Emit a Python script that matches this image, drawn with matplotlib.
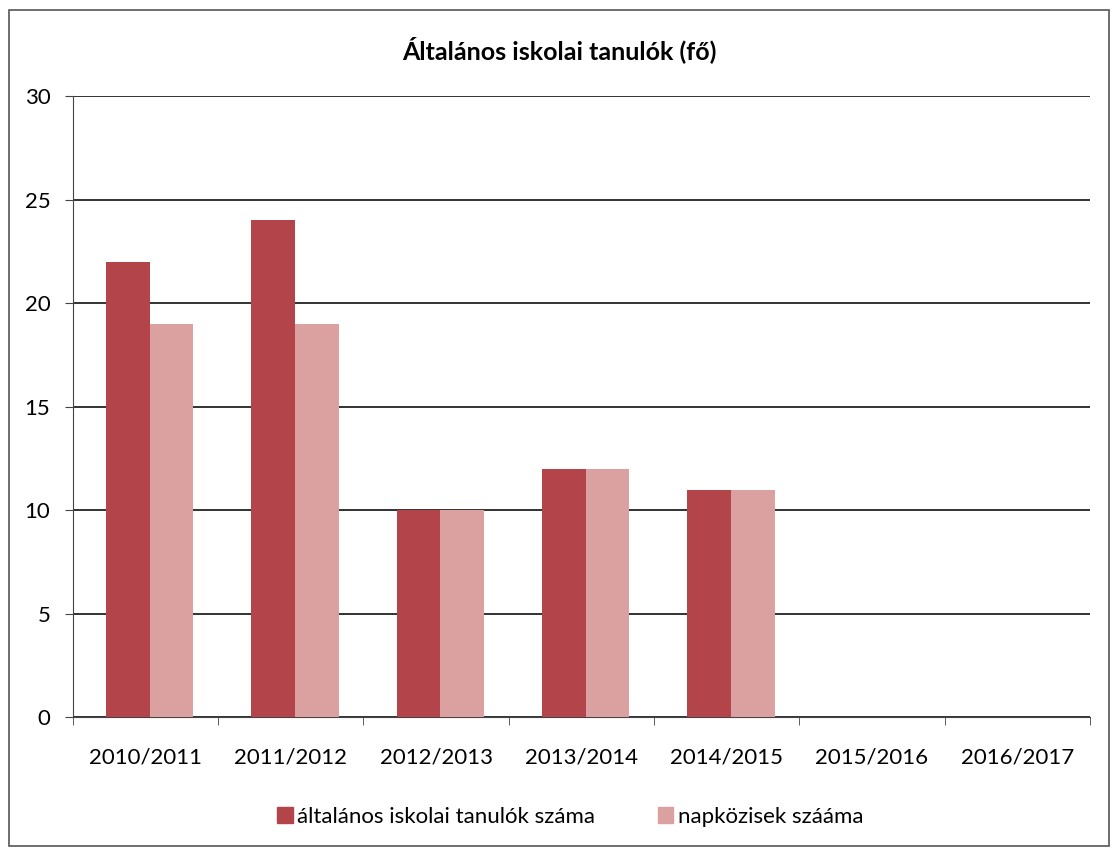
import numpy as np
import matplotlib.pyplot as plt
from matplotlib.patches import Rectangle

# data
years = ["2010/2011", "2011/2012", "2012/2013", "2013/2014",
         "2014/2015", "2015/2016", "2016/2017"]
tanulok = [22, 24, 10, 12, 11, 0, 0]
napkozis = [19, 19, 10, 12, 11, 0, 0]

plt.rcParams['font.family'] = ['Lato', 'DejaVu Sans']

fig = plt.figure(figsize=(11.18, 8.49), dpi=100)
ax = fig.add_axes([0.065, 0.155, 0.91, 0.732])

x = np.arange(len(years))
w = 0.3
ax.bar(x - w / 2 + 0.03, tanulok, w, color="#b3454a", label="általános iskolai tanulók száma", zorder=3)
ax.bar(x + w / 2 + 0.03, napkozis, w, color="#dba1a0", label="napközisek szááma", zorder=3)

ax.set_xlim(-0.5, len(years) - 0.5)
ax.set_ylim(0, 30)
ax.set_yticks(range(0, 31, 5))
ax.yaxis.grid(True, color="#222222", linewidth=1.3, zorder=0)

ax.set_xticks(x)
ax.set_xticklabels(years, fontsize=16)
ax.set_xticks(np.arange(-0.5, len(years), 1), minor=True)
ax.tick_params(axis="x", which="major", length=0, pad=22)
ax.tick_params(axis="x", which="minor", length=6, color="#444444")
ax.tick_params(axis="y", labelsize=16, length=6, color="#444444", pad=10)

for s in ["top", "right"]:
    ax.spines[s].set_visible(False)
ax.spines["left"].set_color("#444444")
ax.spines["bottom"].set_color("#444444")

fig.text(0.5, 0.93, "Általános iskolai tanulók (fő)", ha="center",
         fontsize=18, fontweight="bold")

handles = [Rectangle((0, 0), 1, 1, color="#b3454a"), Rectangle((0, 0), 1, 1, color="#dba1a0")]
fig.legend(handles, ["általános iskolai tanulók száma", "napközisek szááma"],
           loc="center", bbox_to_anchor=(0.51, 0.038), ncol=2, frameon=False,
           fontsize=16, handlelength=0.7, handleheight=0.7, handletextpad=0.2,
           columnspacing=2.8)

fig.patches.append(Rectangle((0.008, 0.003), 0.984, 0.985, transform=fig.transFigure,
                             fill=False, edgecolor="#555555", linewidth=1.2))

fig.savefig("out.png", dpi=100)
